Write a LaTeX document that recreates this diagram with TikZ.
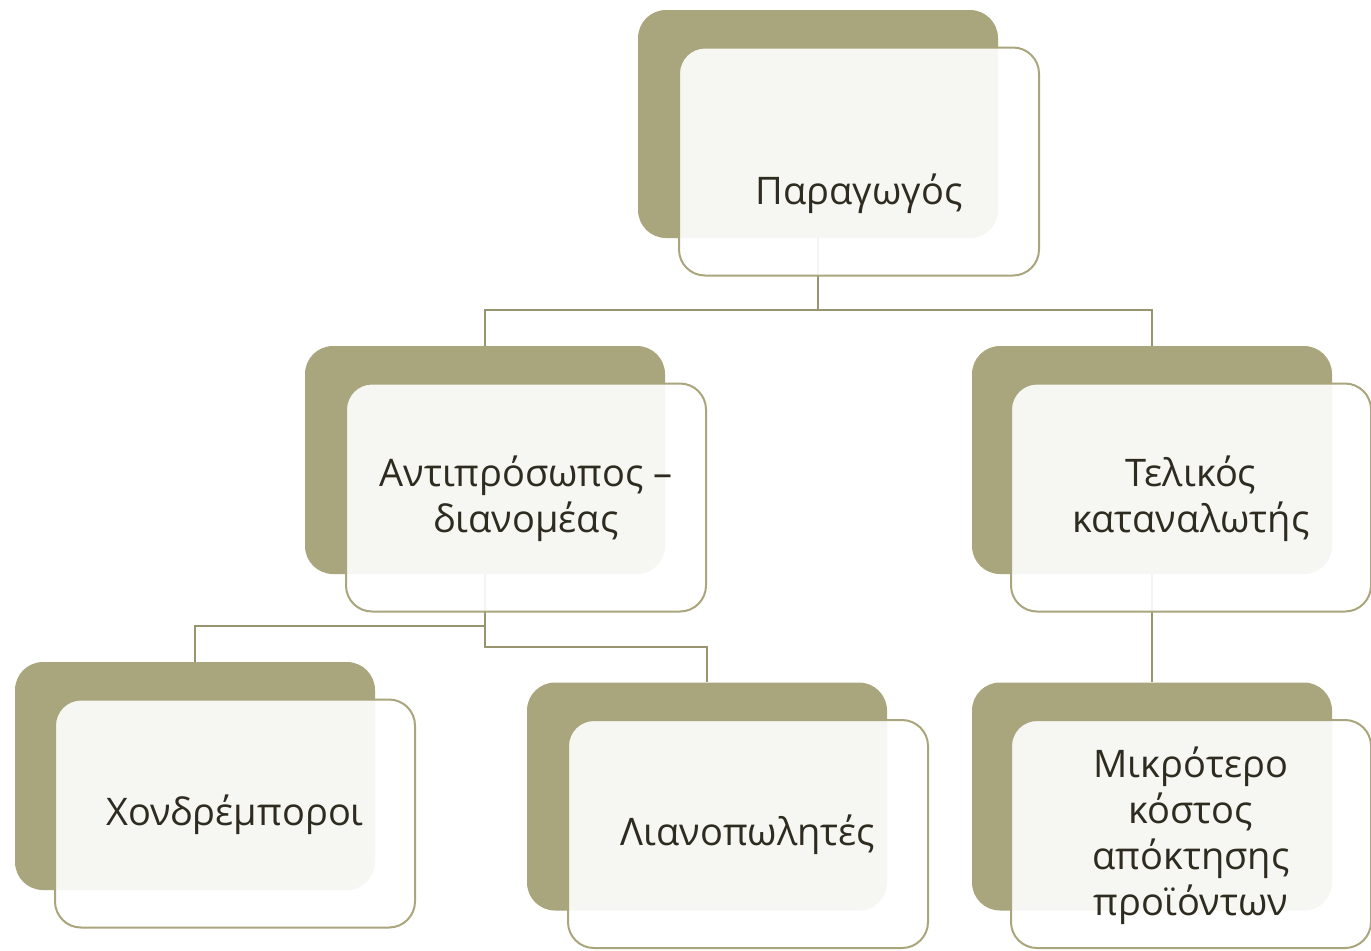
\documentclass[tikz,border=0pt]{standalone}
\usepackage{fontspec}
\setmainfont{Open Sans}
\usetikzlibrary{backgrounds}
\definecolor{olive}{HTML}{A9A57C}
\definecolor{ink}{HTML}{2E2B20}
\tikzset{
  backbox/.style={draw=none,fill=olive,rounded corners=14pt,
    minimum width=180pt,minimum height=114pt,inner sep=0pt},
  frontbox/.style={draw=olive,line width=1pt,fill=white,fill opacity=0.9,
    rounded corners=13pt,minimum width=180pt,minimum height=114pt,inner sep=0pt},
  label/.style={text=ink,align=center,font=\fontsize{19pt}{23pt}\selectfont},
  link/.style={draw=olive!90!black,line width=1pt}
}
\begin{document}
\begin{tikzpicture}[x=0.5pt,y=-0.5pt]
\useasboundingbox (0,0) rectangle (1371,950);
% top level
\node[backbox] (prodB) at (818,124) {};
\node[frontbox] (prod) at (859,161.5) {};
\node[label] (prodT) at (859,194) {Παραγωγός};
% second level
\node[backbox] (agentB) at (485,460) {};
\node[frontbox] (agent) at (526,497.5) {};
\node[label] (agentT) at (526,499) {Αντιπρόσωπος –\\διανομέας};
\node[backbox] (consB) at (1152,460) {};
\node[frontbox] (cons) at (1191,497.5) {};
\node[label] (consT) at (1191,499) {Τελικός\\καταναλωτής};
% third level
\node[backbox] (wholeB) at (195,776) {};
\node[frontbox] (whole) at (235,813.5) {};
\node[label] (wholeT) at (235,815) {Χονδρέμποροι};
\node[backbox] (retailB) at (707,796.5) {};
\node[frontbox] (retail) at (748,834) {};
\node[label] (retailT) at (748,835) {Λιανοπωλητές};
\node[backbox] (costB) at (1152,796.5) {};
\node[frontbox] (cost) at (1191,834) {};
\node[label] (costT) at (1191,836) {Μικρότερο\\κόστος\\απόκτησης\\προϊόντων};
% connectors
\begin{scope}[on background layer]
\coordinate (j1) at (818,310);
\coordinate (j2) at (485,626);
\coordinate (j3) at (485,647);
\draw[link] (prodB.south) -- (j1) -| (agentB.north);
\draw[link] (j1) -| (consB.north);
\draw[link] (agentB.south) -- (j2) -| (wholeB.north);
\draw[link] (j2) -- (j3) -| (retailB.north);
\draw[link] (consB.south) -- (costB.north);
\end{scope}
\end{tikzpicture}
\end{document}
